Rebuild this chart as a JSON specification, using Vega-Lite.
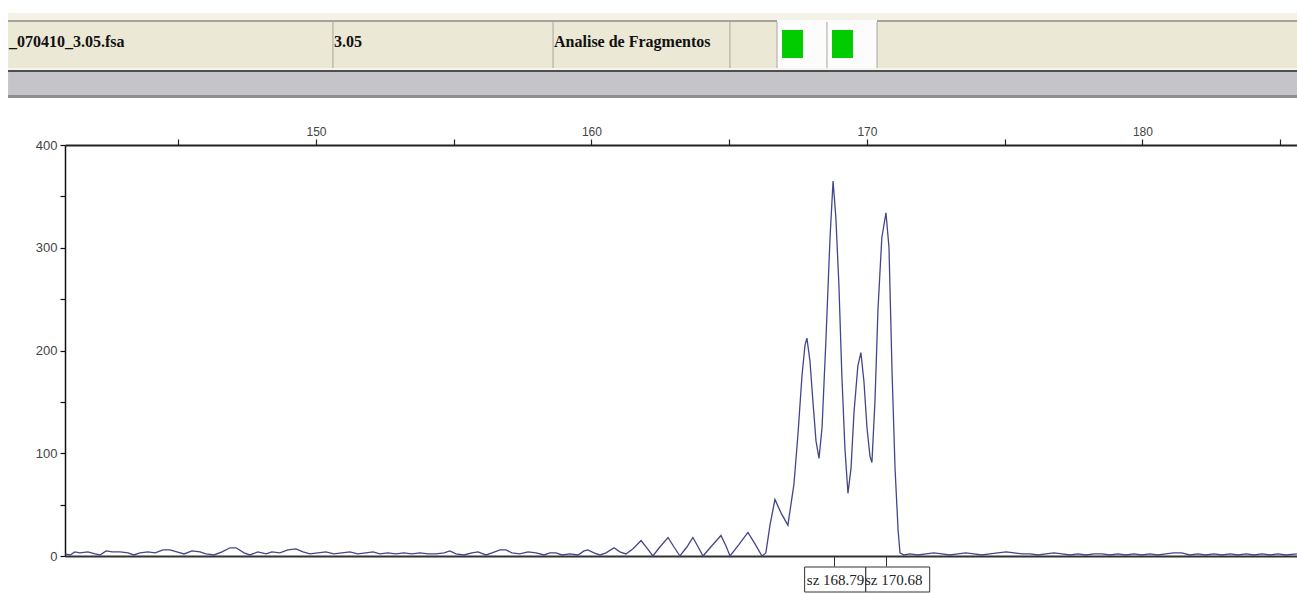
{
  "$schema": "https://vega.github.io/schema/vega-lite/v6.json",
  "background": "white",
  "padding": {"left": 0, "top": 13, "right": 0, "bottom": 0},
  "spacing": 0,
  "resolve": {"scale": {"x": "independent", "y": "independent"}},
  "config": {"view": {"stroke": null}},
  "vconcat": [
    {
      "width": 1232,
      "height": 85,
      "view": {"stroke": null},
      "layer": [
        {
          "data": {"values": [
            {"strip": "light", "from": 0, "to": 8.24},
            {"strip": "line1", "from": 8.24, "to": 10.59},
            {"strip": "beige", "from": 10.59, "to": 64.71},
            {"strip": "hilite", "from": 64.71, "to": 67.06},
            {"strip": "line2", "from": 67.06, "to": 69.41},
            {"strip": "grey", "from": 69.41, "to": 96.47},
            {"strip": "line3", "from": 96.47, "to": 100}
          ]},
          "mark": {"type": "rect"},
          "encoding": {
            "x": {"datum": 0.62, "type": "quantitative", "scale": {"domain": [5.012, 100], "nice": false, "zero": false}, "axis": null},
            "x2": {"datum": 100},
            "y": {"field": "from", "type": "quantitative", "scale": {"domain": [0, 100], "reverse": true, "nice": false, "zero": false}, "axis": null},
            "y2": {"field": "to"},
            "color": {"field": "strip", "type": "nominal", "legend": null,
              "scale": {"domain": ["light", "line1", "beige", "hilite", "line2", "grey", "line3"],
                        "range": ["#f4f1e6", "#a6a49a", "#ebe8d6", "#f7f6ee", "#4e4e4e", "#c5c5c9", "#8e8e8e"]}}
          }
        },
        {
          "data": {"values": [
            {"cell": "dye1", "from": 59.91, "to": 63.76},
            {"cell": "dye2", "from": 63.76, "to": 67.62}
          ]},
          "mark": {"type": "rect", "fill": "#fcfcfc"},
          "encoding": {
            "x": {"field": "from", "type": "quantitative", "axis": null},
            "x2": {"field": "to"},
            "y": {"datum": 8.24, "type": "quantitative", "axis": null},
            "y2": {"datum": 64.71}
          }
        },
        {
          "data": {"values": [
            {"cell": "dye1", "from": 59.91},
            {"cell": "dye2", "from": 63.76}
          ]},
          "mark": {"type": "rect", "fill": "#00cc00", "xOffset": 5, "x2Offset": 26},
          "encoding": {
            "x": {"field": "from", "type": "quantitative", "axis": null},
            "x2": {"field": "from"},
            "y": {"datum": 20.0, "type": "quantitative", "axis": null},
            "y2": {"datum": 52.94}
          }
        },
        {
          "data": {"values": [
            {"cell": "size", "from": 25.67},
            {"cell": "analysis", "from": 42.64},
            {"cell": "blank", "from": 56.28},
            {"cell": "dye1", "from": 59.91},
            {"cell": "dye2", "from": 63.76},
            {"cell": "rest", "from": 67.62}
          ]},
          "mark": {"type": "rule", "color": "#a9a79b", "strokeWidth": 1},
          "encoding": {
            "x": {"field": "from", "type": "quantitative", "axis": null},
            "y": {"datum": 10.59, "type": "quantitative", "axis": null},
            "y2": {"datum": 64.71}
          }
        },
        {
          "data": {"values": [
            {"cell": "file", "label": "_070410_3.05.fsa", "from": 0.62},
            {"cell": "size", "label": "3.05", "from": 25.67},
            {"cell": "analysis", "label": "Analise de Fragmentos", "from": 42.64}
          ]},
          "mark": {"type": "text", "align": "left", "baseline": "middle", "font": "Liberation Serif", "fontWeight": "bold", "fontSize": 16, "color": "#111", "xOffset": 1},
          "encoding": {
            "x": {"field": "from", "type": "quantitative", "axis": null},
            "y": {"datum": 34.1, "type": "quantitative", "axis": null},
            "text": {"field": "label"}
          }
        }
      ]
    },
    {
      "width": 1232,
      "height": 411,
      "view": {"stroke": null},
      "layer": [
        {
          "data": {"values": [
            {"size": 140.89, "rfu": 2}, {"size": 141.07, "rfu": 1}, {"size": 141.25, "rfu": 4}, {"size": 141.43, "rfu": 3},
            {"size": 141.72, "rfu": 4}, {"size": 141.98, "rfu": 2}, {"size": 142.16, "rfu": 1}, {"size": 142.38, "rfu": 5},
            {"size": 142.6, "rfu": 4}, {"size": 142.89, "rfu": 4}, {"size": 143.18, "rfu": 3}, {"size": 143.39, "rfu": 1},
            {"size": 143.61, "rfu": 3}, {"size": 143.9, "rfu": 4}, {"size": 144.16, "rfu": 3}, {"size": 144.45, "rfu": 6},
            {"size": 144.7, "rfu": 6}, {"size": 144.95, "rfu": 4}, {"size": 145.21, "rfu": 2}, {"size": 145.5, "rfu": 5},
            {"size": 145.79, "rfu": 4}, {"size": 146.01, "rfu": 2}, {"size": 146.3, "rfu": 1}, {"size": 146.59, "rfu": 4},
            {"size": 146.88, "rfu": 8}, {"size": 147.1, "rfu": 8}, {"size": 147.39, "rfu": 3}, {"size": 147.6, "rfu": 1},
            {"size": 147.89, "rfu": 4}, {"size": 148.19, "rfu": 2}, {"size": 148.4, "rfu": 4}, {"size": 148.69, "rfu": 3},
            {"size": 148.98, "rfu": 6}, {"size": 149.27, "rfu": 7}, {"size": 149.53, "rfu": 4}, {"size": 149.78, "rfu": 2},
            {"size": 150.07, "rfu": 3}, {"size": 150.36, "rfu": 4}, {"size": 150.65, "rfu": 2}, {"size": 150.94, "rfu": 3},
            {"size": 151.23, "rfu": 4}, {"size": 151.52, "rfu": 2}, {"size": 151.81, "rfu": 3}, {"size": 152.07, "rfu": 4},
            {"size": 152.32, "rfu": 2}, {"size": 152.61, "rfu": 3}, {"size": 152.9, "rfu": 2}, {"size": 153.19, "rfu": 3},
            {"size": 153.48, "rfu": 2}, {"size": 153.77, "rfu": 3}, {"size": 154.07, "rfu": 2}, {"size": 154.36, "rfu": 2},
            {"size": 154.65, "rfu": 3}, {"size": 154.86, "rfu": 5}, {"size": 155.08, "rfu": 2}, {"size": 155.37, "rfu": 1},
            {"size": 155.66, "rfu": 3}, {"size": 155.88, "rfu": 4}, {"size": 156.17, "rfu": 1}, {"size": 156.39, "rfu": 3},
            {"size": 156.68, "rfu": 6}, {"size": 156.9, "rfu": 6}, {"size": 157.11, "rfu": 3}, {"size": 157.4, "rfu": 2},
            {"size": 157.7, "rfu": 4}, {"size": 157.99, "rfu": 3}, {"size": 158.28, "rfu": 1}, {"size": 158.49, "rfu": 3},
            {"size": 158.71, "rfu": 3}, {"size": 158.93, "rfu": 1}, {"size": 159.22, "rfu": 2}, {"size": 159.51, "rfu": 1},
            {"size": 159.73, "rfu": 5}, {"size": 159.87, "rfu": 6}, {"size": 160.09, "rfu": 3}, {"size": 160.31, "rfu": 1},
            {"size": 160.53, "rfu": 3}, {"size": 160.82, "rfu": 8}, {"size": 161.03, "rfu": 4}, {"size": 161.25, "rfu": 2},
            {"size": 161.51, "rfu": 7}, {"size": 161.8, "rfu": 15}, {"size": 162.01, "rfu": 8}, {"size": 162.23, "rfu": 0},
            {"size": 162.49, "rfu": 9}, {"size": 162.78, "rfu": 18}, {"size": 162.99, "rfu": 9}, {"size": 163.21, "rfu": 0},
            {"size": 163.47, "rfu": 9}, {"size": 163.68, "rfu": 18}, {"size": 163.87, "rfu": 9}, {"size": 164.05, "rfu": 0},
            {"size": 164.37, "rfu": 10}, {"size": 164.7, "rfu": 20}, {"size": 164.88, "rfu": 10}, {"size": 165.03, "rfu": 0},
            {"size": 165.35, "rfu": 11}, {"size": 165.68, "rfu": 23}, {"size": 165.93, "rfu": 12}, {"size": 166.19, "rfu": 0},
            {"size": 166.33, "rfu": 3}, {"size": 166.48, "rfu": 30}, {"size": 166.66, "rfu": 55}, {"size": 166.88, "rfu": 42},
            {"size": 167.13, "rfu": 30}, {"size": 167.35, "rfu": 70}, {"size": 167.5, "rfu": 120}, {"size": 167.64, "rfu": 175},
            {"size": 167.75, "rfu": 205}, {"size": 167.82, "rfu": 212}, {"size": 167.93, "rfu": 190}, {"size": 168.04, "rfu": 150},
            {"size": 168.15, "rfu": 112}, {"size": 168.26, "rfu": 95}, {"size": 168.37, "rfu": 125}, {"size": 168.51, "rfu": 210},
            {"size": 168.66, "rfu": 310}, {"size": 168.77, "rfu": 365}, {"size": 168.87, "rfu": 330}, {"size": 168.98, "rfu": 265},
            {"size": 169.09, "rfu": 175}, {"size": 169.2, "rfu": 105}, {"size": 169.31, "rfu": 61}, {"size": 169.42, "rfu": 85},
            {"size": 169.53, "rfu": 140}, {"size": 169.67, "rfu": 185}, {"size": 169.78, "rfu": 198}, {"size": 169.89, "rfu": 170},
            {"size": 170.0, "rfu": 125}, {"size": 170.11, "rfu": 97}, {"size": 170.18, "rfu": 91}, {"size": 170.29, "rfu": 150},
            {"size": 170.4, "rfu": 240}, {"size": 170.54, "rfu": 310}, {"size": 170.69, "rfu": 334}, {"size": 170.8, "rfu": 300},
            {"size": 170.91, "rfu": 180}, {"size": 171.02, "rfu": 85}, {"size": 171.13, "rfu": 25}, {"size": 171.2, "rfu": 3},
            {"size": 171.34, "rfu": 1}, {"size": 171.56, "rfu": 2}, {"size": 171.85, "rfu": 1}, {"size": 172.14, "rfu": 2},
            {"size": 172.43, "rfu": 3}, {"size": 172.72, "rfu": 2}, {"size": 173.01, "rfu": 1}, {"size": 173.3, "rfu": 2},
            {"size": 173.59, "rfu": 3}, {"size": 173.88, "rfu": 2}, {"size": 174.17, "rfu": 1}, {"size": 174.46, "rfu": 2},
            {"size": 174.75, "rfu": 3}, {"size": 175.05, "rfu": 4}, {"size": 175.34, "rfu": 3}, {"size": 175.63, "rfu": 2},
            {"size": 175.92, "rfu": 2}, {"size": 176.21, "rfu": 1}, {"size": 176.5, "rfu": 2}, {"size": 176.79, "rfu": 3},
            {"size": 177.08, "rfu": 2}, {"size": 177.37, "rfu": 1}, {"size": 177.66, "rfu": 2}, {"size": 177.95, "rfu": 1},
            {"size": 178.24, "rfu": 2}, {"size": 178.53, "rfu": 2}, {"size": 178.82, "rfu": 1}, {"size": 179.11, "rfu": 2},
            {"size": 179.4, "rfu": 1}, {"size": 179.69, "rfu": 2}, {"size": 179.98, "rfu": 1}, {"size": 180.27, "rfu": 2},
            {"size": 180.56, "rfu": 1}, {"size": 180.85, "rfu": 2}, {"size": 181.14, "rfu": 3}, {"size": 181.43, "rfu": 3},
            {"size": 181.72, "rfu": 1}, {"size": 182.01, "rfu": 2}, {"size": 182.3, "rfu": 1}, {"size": 182.59, "rfu": 2},
            {"size": 182.89, "rfu": 1}, {"size": 183.18, "rfu": 2}, {"size": 183.47, "rfu": 1}, {"size": 183.76, "rfu": 2},
            {"size": 184.05, "rfu": 1}, {"size": 184.34, "rfu": 2}, {"size": 184.63, "rfu": 1}, {"size": 184.92, "rfu": 2},
            {"size": 185.21, "rfu": 1}, {"size": 185.61, "rfu": 2}
          ]},
          "mark": {"type": "line", "color": "#45458a", "strokeWidth": 1.3},
          "encoding": {
            "x": {"field": "size", "type": "quantitative",
              "scale": {"domain": [140.89, 185.61], "nice": false, "zero": false},
              "axis": {"orient": "top", "values": [145, 150, 155, 160, 165, 170, 175, 180, 185],
                "labelExpr": "datum.value % 10 === 0 ? datum.label : ''",
                "title": null, "grid": false, "domainColor": "#222", "domainWidth": 2,
                "tickColor": "#222", "tickSize": 6, "tickWidth": 1.2,
                "labelFont": "Liberation Sans", "labelFontSize": 12, "labelColor": "#444", "labelPadding": 1,
                "minExtent": 47, "maxExtent": 47}},
            "y": {"field": "rfu", "type": "quantitative",
              "scale": {"domain": [0, 400], "nice": false},
              "axis": {"orient": "left", "values": [0, 50, 100, 150, 200, 250, 300, 350, 400],
                "labelExpr": "datum.value % 100 === 0 ? datum.label : ''",
                "title": null, "grid": false, "domainColor": "#111", "domainWidth": 1.5,
                "tickColor": "#111", "tickSize": 5, "tickWidth": 1.2,
                "labelFont": "Liberation Sans", "labelFontSize": 13, "labelColor": "#444", "labelPadding": 3,
                "minExtent": 65, "maxExtent": 65}}
          }
        },
        {
          "data": {"values": [{"size": 168.79, "label": "sz 168.79"}, {"size": 170.68, "label": "sz 170.68"}]},
          "transform": [{"filter": "datum.size > 170"}],
          "mark": {"type": "rect", "fill": "white", "stroke": "#333", "strokeWidth": 1, "xOffset": -20, "x2Offset": 44, "yOffset": 11, "y2Offset": 36},
          "encoding": {
            "x": {"field": "size", "type": "quantitative",
              "axis": {"orient": "bottom", "values": [168.79, 170.68], "labels": false, "title": null, "grid": false,
                "domainColor": "#333", "domainWidth": 2, "tickColor": "#333", "tickSize": 10, "tickWidth": 1}},
            "x2": {"field": "size"},
            "y": {"datum": 0, "type": "quantitative", "title": null},
            "y2": {"datum": 0}
          }
        },
        {
          "data": {"values": [{"size": 168.79, "label": "sz 168.79"}, {"size": 170.68, "label": "sz 170.68"}]},
          "transform": [{"filter": "datum.size > 170"}],
          "mark": {"type": "text", "font": "Liberation Serif", "fontSize": 15, "color": "#222", "align": "center", "baseline": "middle", "xOffset": 8, "yOffset": 24},
          "encoding": {
            "x": {"field": "size", "type": "quantitative", "axis": null},
            "y": {"datum": 0, "type": "quantitative", "title": null},
            "text": {"field": "label"}
          }
        },
        {
          "data": {"values": [{"size": 168.79, "label": "sz 168.79"}, {"size": 170.68, "label": "sz 170.68"}]},
          "transform": [{"filter": "datum.size < 170"}],
          "mark": {"type": "rect", "fill": "white", "stroke": "#333", "strokeWidth": 1, "xOffset": -29, "x2Offset": 32, "yOffset": 11, "y2Offset": 36},
          "encoding": {
            "x": {"field": "size", "type": "quantitative", "axis": null},
            "x2": {"field": "size"},
            "y": {"datum": 0, "type": "quantitative", "title": null},
            "y2": {"datum": 0}
          }
        },
        {
          "data": {"values": [{"size": 168.79, "label": "sz 168.79"}, {"size": 170.68, "label": "sz 170.68"}]},
          "transform": [{"filter": "datum.size < 170"}],
          "mark": {"type": "text", "font": "Liberation Serif", "fontSize": 15, "color": "#222", "align": "center", "baseline": "middle", "xOffset": 2, "yOffset": 24},
          "encoding": {
            "x": {"field": "size", "type": "quantitative", "axis": null},
            "y": {"datum": 0, "type": "quantitative", "title": null},
            "text": {"field": "label"}
          }
        }
      ]
    }
  ]
}
